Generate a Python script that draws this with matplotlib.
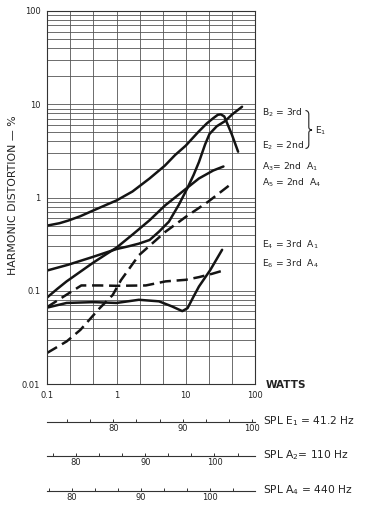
import matplotlib
matplotlib.use("Agg")
import matplotlib.pyplot as plt
from matplotlib.ticker import FixedLocator, NullFormatter, LogLocator
from matplotlib.path import Path
from matplotlib.patches import PathPatch

plt.rcParams['font.family'] = ['DejaVu Sans']
plt.rcParams['mathtext.default'] = 'regular'

# ---------------- data ----------------
# top solid curve (peaks then drops)
c1_w = [0.1, 0.15, 0.2, 0.3, 0.45, 0.7, 1.0, 1.7, 3.0, 5.0, 7.0, 10, 15, 20, 25, 29, 32, 36, 46, 57]
c1_p = [0.50, 0.53, 0.565, 0.63, 0.72, 0.83, 0.93, 1.16, 1.6, 2.2, 2.85, 3.6, 5.0, 6.2, 7.1, 7.7, 7.8, 7.4, 4.8, 3.1]

# solid curve that flattens near 0.3 % then rises steeply to ~9 %
c2_w = [0.1, 0.2, 0.45, 1.0, 1.5, 2.1, 3.0, 4.1, 5.7, 7.9, 10.5, 13, 15.5, 19, 22, 28, 37, 47, 65]
c2_p = [0.165, 0.19, 0.23, 0.28, 0.30, 0.32, 0.35, 0.43, 0.55, 0.83, 1.25, 1.75, 2.4, 3.7, 4.8, 5.8, 6.6, 7.8, 9.4]

# A3 = 2nd A1 (solid)
a3_w = [0.1, 0.14, 0.19, 0.3, 0.46, 0.7, 1.0, 1.7, 3.0, 5.0, 9.0, 15.5, 25, 35]
a3_p = [0.085, 0.105, 0.126, 0.16, 0.2, 0.245, 0.29, 0.40, 0.57, 0.82, 1.16, 1.6, 1.95, 2.15]

# A5 = 2nd A4 (dashed)
a5_w = [0.1, 0.19, 0.3, 0.57, 0.88, 1.16, 2.1, 5.1, 10, 21, 42]
a5_p = [0.0216, 0.0286, 0.038, 0.065, 0.09, 0.13, 0.24, 0.43, 0.62, 0.9, 1.34]

# E4 = 3rd A1 (solid)
e4_w = [0.1, 0.19, 0.46, 1.0, 2.1, 4.1, 6.3, 8.9, 10.6, 13, 15.5, 22.6, 33.5]
e4_p = [0.066, 0.074, 0.0755, 0.074, 0.080, 0.077, 0.068, 0.0605, 0.065, 0.087, 0.111, 0.167, 0.275]

# E6 = 3rd A4 (dashed)
e6_w = [0.1, 0.2, 0.31, 0.57, 1.0, 2.65, 5.1, 10, 15.5, 24, 34]
e6_p = [0.067, 0.093, 0.114, 0.114, 0.113, 0.114, 0.126, 0.131, 0.14, 0.152, 0.164]

x_major = [0.1, 1, 10, 100]
x_major_labels = ['0.1', '1', '10', '100']
x_minor = [0.215, 0.464, 2.15, 4.64, 21.5, 46.4]
y_major = [0.01, 0.1, 1, 10, 100]
y_major_labels = ['0.01', '0.1', '1', '10', '100']

curve_labels = [r'B$_2$ = 3rd', r'E$_2$ = 2nd', r'A$_3$= 2nd  A$_1$', r'A$_5$ = 2nd  A$_4$',
                r'E$_4$ = 3rd  A$_1$', r'E$_6$ = 3rd  A$_4$']
brace_label = r'E$_1$'

# SPL scales (dB)
spl_names = [r'SPL E$_1$ = 41.2 Hz', r'SPL A$_2$= 110 Hz', r'SPL A$_4$ = 440 Hz']
spl_limits = [(70.46, 100.46), (75.85, 105.85), (76.47, 106.47)]
spl_major = [80, 90, 100]
spl_minor = [[73.33, 76.67, 83.33, 86.67, 93.33, 96.67],
             [76.67, 83.33, 86.67, 93.33, 96.67, 103.33],
             [76.67, 83.33, 86.67, 93.33, 96.67, 103.33]]

# ---------------- figure ----------------
W, H = 371, 508
fig = plt.figure(figsize=(W / 100, H / 100), dpi=100)
fig.patch.set_facecolor('white')


def fx(x):
    return x / W


def fy(y):
    return 1 - y / H


L, R, T, B = 47.3, 255.0, 11.0, 384.0
ax = fig.add_axes([fx(L), fy(B), (R - L) / W, (B - T) / H])
ax.set_xscale('log')
ax.set_yscale('log')
ax.set_xlim(0.1, 100)
ax.set_ylim(0.01, 100)

ax.xaxis.set_major_locator(FixedLocator(x_major))
ax.set_xticklabels(x_major_labels)
ax.xaxis.set_minor_locator(FixedLocator(x_minor))
ax.xaxis.set_minor_formatter(NullFormatter())
ax.yaxis.set_major_locator(FixedLocator(y_major))
ax.set_yticklabels(y_major_labels)
ax.yaxis.set_minor_locator(LogLocator(base=10, subs=[2, 3, 4, 5, 6, 7, 8, 9]))
ax.yaxis.set_minor_formatter(NullFormatter())

ax.grid(which='both', color='#555555', lw=0.6)
ax.tick_params(which='both', length=0, labelsize=6, colors='#222222')
ax.tick_params(axis='x', pad=5)
ax.tick_params(axis='y', pad=5)
for s in ax.spines.values():
    s.set_color('#333333')
    s.set_linewidth(0.8)

ink = '#141414'
solid = dict(color=ink, lw=1.8, solid_capstyle='round', solid_joinstyle='round')
dashed = dict(color=ink, lw=1.8, linestyle=(0, (4.5, 2.3)), dash_capstyle='butt', dash_joinstyle='round')

ax.plot(c1_w, c1_p, **solid)
ax.plot(c2_w, c2_p, **solid)
ax.plot(a3_w, a3_p, **solid)
ax.plot(e4_w, e4_p, **solid)
ax.plot(a5_w, a5_p, **dashed)
ax.plot(e6_w, e6_p, **dashed)

# axis titles
fig.text(fx(13.5), fy(195), 'HARMONIC DISTORTION — %', rotation=90, ha='center', va='center',
         fontsize=7.8, color='#222222')
fig.text(fx(266), fy(385), 'WATTS', ha='left', va='center', fontsize=7.5, fontweight='bold',
         color='#222222')

# curve labels
label_y = [113, 146, 167, 183, 245, 264]
for txt, yy in zip(curve_labels, label_y):
    fig.text(fx(262), fy(yy), txt, ha='left', va='center', fontsize=6.6, color='#222222')

# brace
verts = [(305.5, 110.5), (308.8, 110.8), (308.8, 114.5),
         (308.8, 127.0), (308.8, 130.0), (312.0, 130.0),
         (308.8, 130.0), (308.8, 133.0), (308.8, 144.5),
         (308.8, 148.2), (305.5, 148.5)]
codes = [Path.MOVETO, Path.CURVE3, Path.CURVE3,
         Path.LINETO, Path.CURVE3, Path.CURVE3,
         Path.CURVE3, Path.CURVE3, Path.LINETO,
         Path.CURVE3, Path.CURVE3]
bp = Path([(fx(x), fy(y)) for x, y in verts], codes)
fig.add_artist(PathPatch(bp, transform=fig.transFigure, fill=False, lw=0.8, edgecolor='#222222'))
fig.text(fx(315), fy(131), brace_label, ha='left', va='center', fontsize=6.6, color='#222222')

# SPL scales
spl_line_y = [421.7, 455.7, 490.7]
for name, lim, minor, yy in zip(spl_names, spl_limits, spl_minor, spl_line_y):
    sa = fig.add_axes([fx(L), fy(yy), (R - L) / W, 0.001])
    sa.set_xlim(*lim)
    sa.set_facecolor('none')
    for k in ['top', 'left', 'right']:
        sa.spines[k].set_visible(False)
    sa.spines['bottom'].set_color('#333333')
    sa.spines['bottom'].set_linewidth(0.8)
    sa.set_yticks([])
    sa.xaxis.set_major_locator(FixedLocator(spl_major))
    sa.set_xticklabels([str(v) for v in spl_major])
    sa.xaxis.set_minor_locator(FixedLocator(minor))
    sa.xaxis.set_minor_formatter(NullFormatter())
    sa.tick_params(axis='x', which='both', direction='in', length=2.4, width=0.7,
                   color='#333333', labelsize=6, pad=2, labelcolor='#222222')
    fig.text(fx(263), fy(yy - 0.5), name, ha='left', va='center', fontsize=7.7, color='#222222')

fig.savefig('out.png', dpi=100, facecolor='white')
